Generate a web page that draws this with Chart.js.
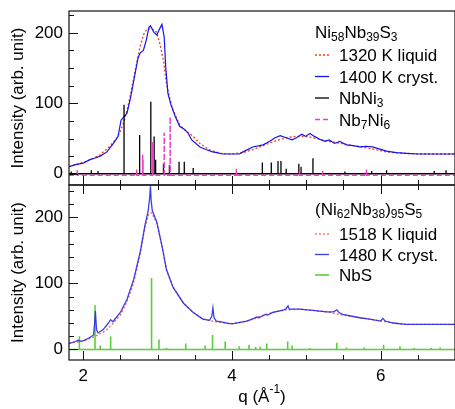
<!DOCTYPE html>
<html>
<head>
<meta charset="utf-8">
<script src="https://cdn.jsdelivr.net/npm/chart.js@4.4.0/dist/chart.umd.min.js"></script>
<style>
  html, body { margin: 0; padding: 0; background: #fff; }
  #wrap { position: relative; width: 455px; height: 409px; overflow: hidden; }
  canvas { position: absolute; left: 0; }
  #topChart { top: -10px; z-index: 2; }
  #botChart { top: 165px; z-index: 1; }
</style>
</head>
<body>
<div id="wrap">
  <canvas id="botChart" width="455" height="244"></canvas>
  <canvas id="topChart" width="455" height="215"></canvas>
</div>
<script>
// q range shared by both panels
const qMin = 1.81, qMax = 7;

// --- top panel: Ni58Nb39S3 ---
const liqTopQ = [1.81, 1.9, 2.0, 2.1, 2.23, 2.36, 2.45, 2.5, 2.55, 2.59, 2.63, 2.675, 2.72, 2.765, 2.81, 2.855, 2.92, 2.99, 3.03, 3.08, 3.12, 3.17, 3.21, 3.3, 3.39, 3.48, 3.57, 3.7, 3.84, 4.0, 4.15, 4.3, 4.42, 4.6, 4.73, 4.85, 4.95, 5.05, 5.18, 5.3, 5.41, 5.63, 5.85, 6.08, 6.3, 6.52, 7.0];
const liqTopI = [10, 13, 16, 20, 27, 39, 50, 60, 74, 90, 109, 133, 157, 180, 197, 205, 206, 201, 185, 161, 128, 105, 90, 69, 60, 53, 43, 34, 29, 28, 30, 35, 40, 47, 51, 53, 53, 52, 49, 46, 44, 40, 36, 31, 29, 28, 28];

const cryTopQ = [1.81, 1.9, 2.0, 2.09, 2.15, 2.23, 2.32, 2.4, 2.47, 2.51, 2.55, 2.59, 2.64, 2.7, 2.74, 2.77, 2.81, 2.85, 2.885, 2.905, 2.95, 2.99, 3.03, 3.06, 3.09, 3.11, 3.14, 3.18, 3.24, 3.3, 3.36, 3.41, 3.46, 3.57, 3.66, 3.74, 3.8, 3.87, 4.0, 4.1, 4.15, 4.28, 4.42, 4.51, 4.58, 4.65, 4.73, 4.81, 4.87, 4.94, 4.99, 5.05, 5.11, 5.18, 5.25, 5.31, 5.38, 5.45, 5.54, 5.63, 5.72, 5.81, 5.89, 5.99, 6.08, 6.21, 6.35, 6.52, 6.75, 7.0];
const cryTopI = [10, 13, 15, 20, 22, 25, 31, 42, 53, 76, 81, 86, 109, 143, 165, 172, 175, 190, 208, 210, 201, 197, 206, 212, 194, 152, 114, 98, 81, 67, 63, 58, 48, 38, 34, 31, 30, 28, 28, 28, 31, 38, 41, 46, 51, 54, 51, 48, 51, 56, 53, 57, 53, 49, 46, 48, 43, 46, 41, 40, 38, 39, 38, 35, 32, 30, 29, 28, 28, 28];

const nbni3Q = [1.84, 2.11, 2.2, 2.55, 2.76, 2.8, 2.91, 2.955, 2.975, 3.08, 3.16, 3.29, 3.36, 3.48, 4.41, 4.53, 4.62, 4.66, 4.73, 4.9, 4.93, 5.09, 5.52, 5.88, 6.08, 6.72, 6.88];
const nbni3I = [3, 5, 4, 98, 55, 20, 102, 53, 20, 14, 12, 17, 17, 8, 16, 16, 18, 18, 7, 14, 10, 22, 3, 4, 5, 4, 5];

const nb7ni6Q = [1.92, 2.72, 2.8, 2.935, 3.09, 3.17, 4.06, 4.91, 5.22, 5.81];
const nb7ni6I = [8, 8, 29, 47, 60, 83, 9, 8, 7, 8];

// --- bottom panel: (Ni62Nb38)95S5 ---
const liqBotQ = [1.81, 1.9, 2.0, 2.1, 2.2, 2.3, 2.4, 2.5, 2.59, 2.68, 2.77, 2.83, 2.88, 2.92, 2.99, 3.06, 3.12, 3.21, 3.35, 3.48, 3.61, 3.73, 3.84, 3.97, 4.02, 4.2, 4.33, 4.42, 4.55, 4.73, 4.91, 5.09, 5.27, 5.49, 5.72, 5.85, 6.02, 6.17, 6.34, 6.61, 7.0];
const liqBotI = [9, 11, 12.5, 17, 22, 28, 39, 52, 72, 101, 146, 184, 205, 207, 192, 157, 121, 94, 70, 56, 46, 43, 41, 39, 39, 43, 48, 52, 56, 60, 61, 59, 57, 52, 48, 46, 43, 40, 38, 38, 38];

const cryBotQ = [1.81, 1.9, 1.93, 1.96, 2.0, 2.09, 2.14, 2.155, 2.165, 2.18, 2.2, 2.27, 2.34, 2.37, 2.4, 2.5, 2.59, 2.68, 2.77, 2.83, 2.875, 2.895, 2.905, 2.915, 2.93, 2.99, 3.06, 3.12, 3.21, 3.35, 3.48, 3.61, 3.7, 3.73, 3.745, 3.76, 3.79, 3.84, 3.97, 4.02, 4.2, 4.3, 4.33, 4.36, 4.42, 4.45, 4.48, 4.55, 4.7, 4.73, 4.755, 4.77, 4.91, 5.09, 5.27, 5.37, 5.41, 5.44, 5.49, 5.72, 5.85, 6.0, 6.03, 6.06, 6.17, 6.34, 6.61, 7.0];
const cryBotI = [9, 12, 14, 12.5, 13, 18, 22, 40, 58, 30, 25, 30, 40, 45, 42, 56, 76, 106, 149, 187, 210, 230, 247, 225, 210, 193, 157, 121, 94, 70, 56, 46, 44, 50, 63, 48, 43, 42, 39, 39, 43, 47, 49, 48, 51, 53, 52, 56, 60, 62, 66, 61, 61, 59, 57, 57, 60, 56, 53, 48, 46, 43, 47, 43, 40, 38, 38, 38];

const nbsQ = [1.95, 2.16, 2.23, 2.37, 2.92, 3.02, 3.12, 3.38, 3.64, 3.74, 3.91, 4.1, 4.23, 4.32, 4.38, 4.47, 4.75, 4.81, 5.05, 5.41, 5.54, 5.78, 6.04, 6.26, 6.45, 6.68, 6.8];
const nbsI = [20, 67, 6, 20, 108, 15, 2, 9, 6, 22, 12, 5, 7, 4, 4, 9, 12, 6, 2, 10, 3, 3, 7, 5, 2, 2, 3];

const FONT = '"Liberation Sans", Arial, Helvetica, sans-serif';
Chart.defaults.font.family = FONT;
Chart.defaults.color = '#000';

const zip = (xs, ys) => xs.map((x, i) => ({ x: x, y: ys[i] }));

// stick pattern as one polyline along a baseline
function sticks(pos, h, base) {
  const pts = [{ x: qMin, y: base }];
  pos.forEach((p, i) => {
    pts.push({ x: p, y: base }, { x: p, y: base + h[i] }, { x: p, y: base });
  });
  pts.push({ x: qMax, y: base });
  return pts;
}

function drawRich(ctx, segs, x, y) {
  segs.forEach(s => {
    if (s[0] === '_') {
      ctx.font = '12px ' + FONT;
      ctx.fillText(s.slice(1), x, y + 3);
      x += ctx.measureText(s.slice(1)).width;
    } else {
      ctx.font = '17px ' + FONT;
      ctx.fillText(s, x, y);
      x += ctx.measureText(s).width;
    }
  });
  return x;
}

// frame, inward ticks, legend, x title
const frame = {
  id: 'frame',
  afterDatasetsDraw(chart, args, o) {
    const { ctx, chartArea: a, scales: { x, y } } = chart;
    ctx.save();
    ctx.strokeStyle = '#111';
    ctx.lineWidth = 1.2;
    ctx.strokeRect(a.left, a.top, a.right - a.left, a.bottom - a.top);
    ctx.lineWidth = 1;
    ctx.beginPath();
    for (let k = 4; k <= 14; k++) {
      const q = k / 2;
      const px = Math.round(x.getPixelForValue(q)) + 0.5;
      const len = (k % 4 === 0) ? 9 : 5;
      if (o.xTop) { ctx.moveTo(px, a.top); ctx.lineTo(px, a.top + len); }
      if (o.xBottom) { ctx.moveTo(px, a.bottom); ctx.lineTo(px, a.bottom - len); }
    }
    for (let v = 0; v <= y.max; v += o.yMinor) {
      const py = Math.round(y.getPixelForValue(v)) + 0.5;
      const len = (v % 100 === 0) ? 9 : 5;
      ctx.moveTo(a.left, py); ctx.lineTo(a.left + len, py);
    }
    ctx.stroke();

    const L = o.legend;
    ctx.fillStyle = '#000';
    ctx.textBaseline = 'alphabetic';
    drawRich(ctx, L.title, L.x, L.titleY + 6);
    L.items.forEach((it, i) => {
      const yy = L.y0 + i * L.step;
      ctx.strokeStyle = it.color;
      ctx.lineWidth = it.width;
      ctx.setLineDash(it.dash || []);
      ctx.beginPath();
      ctx.moveTo(L.x, yy); ctx.lineTo(L.x + 14, yy);
      ctx.stroke();
      ctx.setLineDash([]);
      ctx.fillStyle = '#000';
      drawRich(ctx, it.text, L.textX, yy + 6);
    });

    if (o.xTitle) {
      ctx.font = '17px ' + FONT;
      const w1 = ctx.measureText('q (Å').width;
      const w3 = ctx.measureText(')').width;
      ctx.font = '12px ' + FONT;
      const w2 = ctx.measureText('-1').width;
      let xx = o.xTitle.x - (w1 + w2 + w3) / 2;
      const by = o.xTitle.y;
      ctx.font = '17px ' + FONT;
      ctx.fillText('q (Å', xx, by); xx += w1;
      ctx.font = '12px ' + FONT;
      ctx.fillText('-1', xx, by - 9); xx += w2;
      ctx.font = '17px ' + FONT;
      ctx.fillText(')', xx, by);
    }
    ctx.restore();
  }
};

function yAxis(min, max) {
  return {
    min: min, max: max,
    afterFit: s => { s.width = 69; },
    grid: { display: false, drawTicks: false },
    border: { display: false },
    ticks: { stepSize: 100, includeBounds: false, padding: 6, color: '#000', font: { size: 17 } },
    title: { display: true, text: 'Intensity (arb. unit)', color: '#000', font: { size: 17 }, padding: { top: 8, bottom: 0 } }
  };
}

const line = (data, color, width, dash, order) => ({
  data: data, borderColor: color, borderWidth: width, borderDash: dash || [],
  pointRadius: 0, tension: 0, fill: false, order: order
});

const liqTopColor = '#f0401c', cryTopColor = '#1414f0', nbni3Color = '#000000', nb7ni6Color = '#f03cc8';
const liqBotColor = 'rgba(240,80,50,0.85)', cryBotColor = 'rgba(40,40,235,0.9)', nbsColor = 'rgba(60,200,20,0.85)';

new Chart(document.getElementById('topChart'), {
  type: 'line',
  data: {
    datasets: [
      line(sticks(nb7ni6Q, nb7ni6I, -2), nb7ni6Color, 1.5, [5, 3], 1),
      line(sticks(nbni3Q, nbni3I, 0), nbni3Color, 1.3, [], 2),
      line(zip(cryTopQ, cryTopI), cryTopColor, 1.2, [], 3),
      line(zip(liqTopQ, liqTopI), liqTopColor, 1.3, [2, 2], 4)
    ]
  },
  options: {
    responsive: false, animation: false, devicePixelRatio: 1, events: [],
    layout: { padding: { top: 21, bottom: 20, left: 0, right: 0 } },
    plugins: {
      legend: { display: false }, tooltip: { enabled: false },
      frame: {
        xTop: false, xBottom: true, yMinor: 25,
        legend: {
          x: 315, textX: 339, titleY: 42, y0: 65, step: 21.5,
          title: ['Ni', '_58', 'Nb', '_39', 'S', '_3'],
          items: [
            { text: ['1320 K liquid'], color: liqTopColor, width: 1.3, dash: [2, 2] },
            { text: ['1400 K cryst.'], color: cryTopColor, width: 1.3 },
            { text: ['NbNi', '_3'], color: nbni3Color, width: 1.3 },
            { text: ['Nb', '_7', 'Ni', '_6'], color: nb7ni6Color, width: 1.5, dash: [5, 3] }
          ]
        }
      }
    },
    scales: {
      x: { type: 'linear', min: qMin, max: qMax, display: false },
      y: yAxis(-16, 231)
    }
  },
  plugins: [frame]
});

new Chart(document.getElementById('botChart'), {
  type: 'line',
  data: {
    datasets: [
      line(zip(cryBotQ, cryBotI), cryBotColor, 1.3, [], 1),
      line(zip(liqBotQ, liqBotI), liqBotColor, 1.3, [2, 2], 2),
      line(sticks(nbsQ, nbsI, 0), nbsColor, 1.6, [], 3)
    ]
  },
  options: {
    responsive: false, animation: false, devicePixelRatio: 1, events: [],
    layout: { padding: { top: 20, bottom: 0, left: 0, right: 0 } },
    plugins: {
      legend: { display: false }, tooltip: { enabled: false },
      frame: {
        xTop: true, xBottom: true, yMinor: 20,
        xTitle: { x: 262, y: 237 },
        legend: {
          x: 315, textX: 339, titleY: 44, y0: 69, step: 20.5,
          title: ['(Ni', '_62', 'Nb', '_38', ')', '_95', 'S', '_5'],
          items: [
            { text: ['1518 K liquid'], color: liqBotColor, width: 1.3, dash: [2, 2] },
            { text: ['1480 K cryst.'], color: cryBotColor, width: 1.3 },
            { text: ['NbS'], color: nbsColor, width: 1.6 }
          ]
        }
      }
    },
    scales: {
      x: {
        type: 'linear', min: qMin, max: qMax,
        afterFit: s => { s.height = 49; },
        grid: { display: false, drawTicks: false },
        border: { display: false },
        ticks: { stepSize: 2, includeBounds: false, padding: 6, color: '#000', font: { size: 17 }, maxRotation: 0 }
      },
      y: yAxis(-16, 249)
    }
  },
  plugins: [frame]
});
</script>
</body>
</html>
